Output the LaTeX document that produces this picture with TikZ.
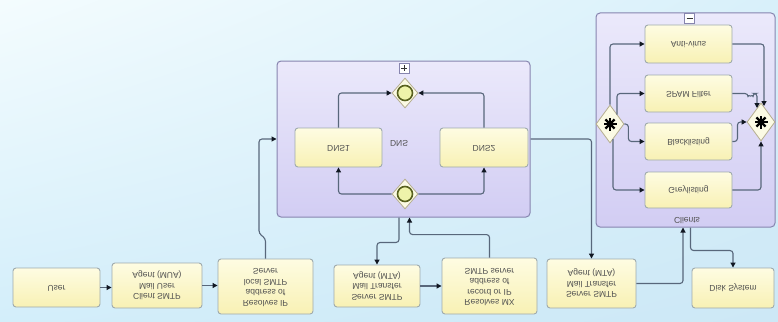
\documentclass[tikz,border=0pt]{standalone}
\usepackage{fontspec}
\setmainfont{Liberation Sans}
\usetikzlibrary{shapes.geometric,arrows.meta,calc,shadings}

\definecolor{bgA}{HTML}{F4FCFE}
\definecolor{bgB}{HTML}{D8F0FA}
\definecolor{bgC}{HTML}{D3EEFA}
\definecolor{bgD}{HTML}{CDE8F6}
\definecolor{subTop}{HTML}{EBE9FB}
\definecolor{subBot}{HTML}{D2CDF3}
\definecolor{subEdge}{HTML}{8785AF}
\definecolor{taskTop}{HTML}{FEFCE2}
\definecolor{taskBot}{HTML}{F8F1B4}
\definecolor{taskEdge}{HTML}{9FAAAD}
\definecolor{flowLine}{HTML}{58677B}
\definecolor{flowTip}{HTML}{111722}
\definecolor{gwFill}{HTML}{FBFAE4}
\definecolor{gwEdge}{HTML}{B5AE90}
\definecolor{ringEdge}{HTML}{57601F}
\definecolor{ringFill}{HTML}{EEF3AA}
\definecolor{labelGray}{HTML}{505050}

% text mirrored top to bottom, line order included
\newcommand{\mirrortext}[1]{\scalebox{1}[-1]{\begin{tabular}{@{}c@{}}#1\end{tabular}}}

\tikzset{
  subproc/.style={rectangle, rounded corners=4pt, draw=subEdge, line width=1pt,
    top color=subTop, bottom color=subBot, inner sep=0pt},
  task/.style={rectangle, rounded corners=3pt, draw=taskEdge, line width=0.9pt,
    top color=taskTop, bottom color=taskBot, inner sep=0pt,
    font=\fontsize{8.5}{10.5}\selectfont, text=labelGray},
  plainlabel/.style={inner sep=0pt, font=\fontsize{8.5}{10.5}\selectfont, text=labelGray},
  flow/.style={draw=flowLine, line width=1.1pt, rounded corners=3pt,
    -{Triangle[length=5pt,width=5pt,color=flowTip]}},
  gateway/.style={diamond, draw=gwEdge, line width=0.8pt, fill=gwFill, inner sep=0pt},
  ring/.style={circle, draw=ringEdge, line width=1.6pt, fill=ringFill, inner sep=0pt, minimum size=15pt},
  star/.style={line width=2.2pt, draw=black},
  marker/.style={rectangle, draw=subEdge, fill=white, line width=0.6pt, inner sep=0pt,
    minimum width=10pt, minimum height=10pt},
  markline/.style={line width=0.7pt, draw=black!80}
}

\begin{document}
\begin{tikzpicture}[x=1pt,y=-1pt]
\useasboundingbox (0,0) rectangle (778,321);
\shade[upper left=bgA, upper right=bgB, lower left=bgC, lower right=bgD] (0,0) rectangle (778,321);

% ---------- sub-processes ----------
\node[subproc, minimum width=253pt, minimum height=156pt] (dns) at (403.5,139) {};
\node[subproc, minimum width=179pt, minimum height=214pt] (clients) at (685.5,120) {};

% collapse / expand markers
\node[marker] (dnsmark) at (404,68) {};
\draw[markline] ($(dnsmark)+(-3,0)$) -- ($(dnsmark)+(3,0)$);
\draw[markline] ($(dnsmark)+(0,-3)$) -- ($(dnsmark)+(0,3)$);
\node[marker] (climark) at (689.5,18.5) {};
\draw[markline] ($(climark)+(-3,0)$) -- ($(climark)+(3,0)$);

% sub-process labels
\node[plainlabel] (dnslabel) at (399,143) {\mirrortext{DNS}};
\node[plainlabel] (clilabel) at (687,220) {\mirrortext{Clients}};

% ---------- main row of tasks ----------
\node[task, minimum width=87pt, minimum height=39pt] (user) at (56.5,287.5) {\mirrortext{User}};
\node[task, minimum width=90pt, minimum height=45pt] (client) at (157,285.5) {\mirrortext{Client SMTP\\Mail User\\Agent (MUA)}};
\node[task, minimum width=95pt, minimum height=55pt] (resip) at (265.5,286.5) {\mirrortext{Resolves IP\\address of\\local SMTP\\Server}};
\node[task, minimum width=86pt, minimum height=42pt] (mtaA) at (377,286) {\mirrortext{Server SMTP\\Mail Transfer\\Agent (MTA)}};
\node[task, minimum width=95pt, minimum height=56pt] (resmx) at (489.5,286) {\mirrortext{Resolves MX\\record or IP\\address of\\SMTP server}};
\node[task, minimum width=89pt, minimum height=49pt] (mtaB) at (591.5,283.5) {\mirrortext{Server SMTP\\Mail Transfer\\Agent (MTA)}};
\node[task, minimum width=82pt, minimum height=40pt] (disk) at (733,288) {\mirrortext{Disk System}};

% ---------- DNS contents ----------
\node[task, minimum width=87pt, minimum height=39pt] (dnsone) at (338.5,147.5) {\mirrortext{DNS1}};
\node[task, minimum width=88pt, minimum height=39pt] (dnstwo) at (484,147.5) {\mirrortext{DNS2}};
\node[gateway, minimum width=26pt, minimum height=30pt] (gjoin) at (405,93) {};
\node[ring] (gjoinring) at (gjoin) {};
\node[gateway, minimum width=26pt, minimum height=30pt] (gsplit) at (405,194) {};
\node[ring] (gsplitring) at (gsplit) {};

\draw[flow] (gsplit.west) -| (dnsone.south);
\draw[flow] (gsplit.east) -| (dnstwo.south);
\draw[flow] (dnsone.north) |- (gjoin.west);
\draw[flow] (dnstwo.north) |- (gjoin.east);

% ---------- Clients contents ----------
\node[task, minimum width=87pt, minimum height=38pt] (antivirus) at (688.5,44) {\mirrortext{Anti-virus}};
\node[task, minimum width=87pt, minimum height=37pt] (spam) at (688.5,93.5) {\mirrortext{SPAM Filter}};
\node[task, minimum width=87pt, minimum height=37pt] (black) at (688.5,141.5) {\mirrortext{Blacklisting}};
\node[task, minimum width=87pt, minimum height=36pt] (grey) at (688.5,190) {\mirrortext{Greylisting}};
\node[gateway, minimum width=28pt, minimum height=38pt] (cfork) at (610,124) {};
\node[gateway, minimum width=28pt, minimum height=38pt] (cjoin) at (761,122) {};
\foreach \a in {0,45,90,135} {
  \draw[star] (cfork) ++(\a:6.5) -- ++(\a+180:13);
  \draw[star] (cjoin) ++(\a:6.5) -- ++(\a+180:13);
}

\coordinate (forkB) at (617,114.5);
\coordinate (forkD) at (613,139);
\draw[flow] (cfork.north) |- (antivirus.west);
\draw[flow] (forkB) |- (spam.west);
\draw[flow] (cfork.east) -- ++(4,0) |- (black.west);
\draw[flow] (forkD) |- (grey.west);

\coordinate (joinA) at (764,106);
\coordinate (joinB) at (757,108);
\draw[flow] (antivirus.east) -| (joinA);
\draw[flow] (spam.east) -- (748,93.5) arc[start angle=180, end angle=0, radius=2.5] -- (757,93.5) -- (joinB);
\draw[flow] (black.east) -- ++(5,0) |- (cjoin.west);
\draw[flow] (grey.east) -| (cjoin.south);

% ---------- main flow ----------
\draw[flow] (user.east) -- (user.east -| client.west);
\draw[flow] (client.east) -- (client.east -| resip.west);
\draw[flow] (resip.north) -- ++(0,-20) -- ++(-6.5,-5) |- (dns.west);
\draw[flow] ($(dns.south)+(-4.5,0)$) -- ++(0,25) -| (mtaA.north);
\draw[flow] (mtaA.east) -- (mtaA.east -| resmx.west);
\draw[flow] (resmx.north) -- ++(0,-23) -| ($(dns.south)+(6,0)$);
\draw[flow] (dns.east) -| (mtaB.north);
\draw[flow] (mtaB.east) -| ($(clients.south)+(-2.5,0)$);
\draw[flow] ($(clients.south)+(5,0)$) -- ++(0,23) -| (disk.north);
\end{tikzpicture}
\end{document}
